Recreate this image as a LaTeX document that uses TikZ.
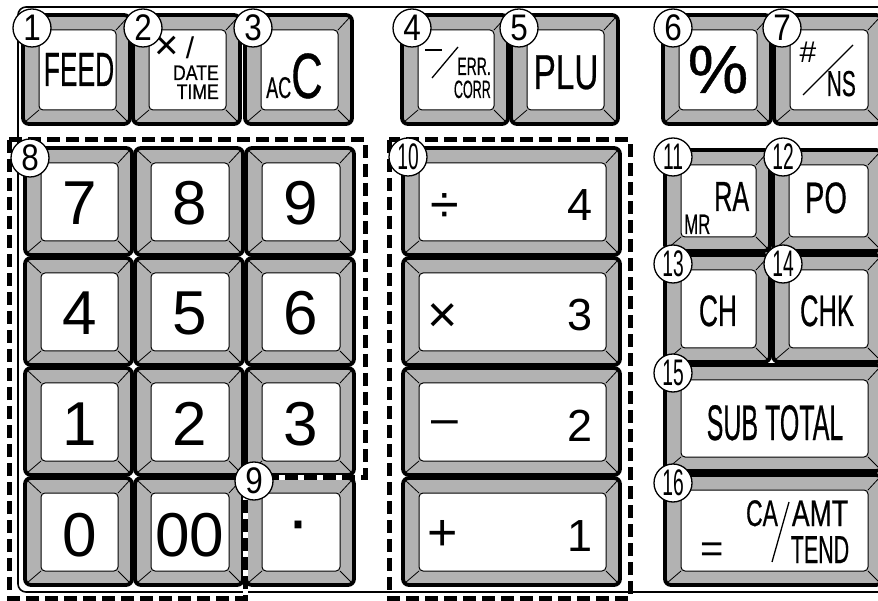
\documentclass[tikz,border=0pt]{standalone}
\usepackage{fontspec}
\setmainfont{Liberation Sans}
\newfontfamily\cnd[FakeBold=0.6]{Liberation Sans}
\usepackage{graphicx}
\newcommand\fsz[1]{\fontsize{#1}{#1}\selectfont}
\newcommand\sqz[2]{\scalebox{#1}[1]{#2}}
\definecolor{keygray}{gray}{0.70}
\tikzset{
 keybody/.style={draw=black, line width=3.8pt, fill=keygray, rounded corners=6pt},
 keydiag/.style={draw=black, line width=0.8pt},
 keyface/.style={draw=black, line width=1pt, fill=white, rounded corners=4pt},
 lbl/.style={inner sep=0pt, anchor=base},
 lblc/.style={inner sep=0pt, anchor=center},
 circnum/.style={circle, draw=black, line width=1.3pt, fill=white, minimum size=38pt, inner sep=0pt, font=\fsz{37}},
 groupbg/.style={draw=white, line width=5pt},
 groupline/.style={draw=black, line width=5pt, dash pattern=on 13pt off 6pt},
 frameline/.style={draw=black, line width=1.6pt, rounded corners=8pt},
 glyphline/.style={draw=black, line width=1.3pt},
}
\newcommand\kkey[4]{%
  \draw[keybody] (#1,#2) rectangle (#3,#4);
  \draw[keydiag] (#1+2,#2+2) -- (#1+16,#2+15)
                 (#3-2,#2+2) -- (#3-14,#2+15)
                 (#1+2,#4-2) -- (#1+16,#4-14)
                 (#3-2,#4-2) -- (#3-14,#4-14);
  \draw[keyface] (#1+16,#2+15) rectangle (#3-14,#4-14);
}
\begin{document}
\begin{tikzpicture}[x=1pt,y=-1pt]
\path[use as bounding box] (0,0) rectangle (878,601);
\clip (0,0) rectangle (878,601);
\fill[white] (0,0) rectangle (878,601);
% frame
\draw[frameline] (18,7) rectangle (930,592);
% top row
\kkey{23}{15}{130}{124}
\kkey{133}{15}{240}{124}
\kkey{245}{15}{352}{124}
\kkey{402}{15}{508}{124}
\kkey{511}{15}{618}{124}
\kkey{663}{15}{771}{124}
\kkey{774}{15}{882}{124}
% numpad
\kkey{25}{148}{132}{255}
\kkey{135}{148}{243}{255}
\kkey{246}{148}{354}{255}
\kkey{25}{258}{132}{365}
\kkey{135}{258}{243}{365}
\kkey{246}{258}{354}{365}
\kkey{25}{368}{132}{475}
\kkey{135}{368}{243}{475}
\kkey{246}{368}{354}{475}
\kkey{25}{478}{132}{585}
\kkey{135}{478}{243}{585}
\kkey{246}{478}{354}{585}
% operators
\kkey{403}{148}{620}{255}
\kkey{403}{258}{620}{365}
\kkey{403}{368}{620}{475}
\kkey{403}{478}{620}{585}
% right column
\kkey{665}{150}{770}{251}
\kkey{773}{150}{882}{251}
\kkey{665}{255}{770}{362}
\kkey{773}{255}{882}{362}
\kkey{665}{365}{882}{471}
\kkey{665}{475}{882}{585}

% top row labels
\node[lbl] (feed) at (79,86) {\cnd\fsz{48}\sqz{0.55}{FEED}};
\node[lblc] (times) at (167,48) {\fsz{42}×};
\node[lblc] (slash2) at (190,48) {\fsz{30}/};
\node[lbl, anchor=base east] (date) at (219,80) {\cnd\fsz{21}\sqz{0.84}{DATE}};
\node[lbl, anchor=base east] (time) at (219,99) {\cnd\fsz{21}\sqz{0.84}{TIME}};
\node[lbl, anchor=base west] (ac) at (266,98) {\cnd\fsz{30}\sqz{0.6}{AC}};
\node[lbl, anchor=base west] (cbig) at (291,98) {\cnd\fsz{64}\sqz{0.68}{C}};
\draw[glyphline] (425,50) -- (442,50);
\draw[glyphline] (432,78) -- (458,47);
\node[lbl, anchor=base east] (err) at (491,75) {\cnd\fsz{25}\sqz{0.56}{ERR.}};
\node[lbl, anchor=base east] (corr) at (491,98) {\cnd\fsz{25}\sqz{0.5}{CORR}};
\node[lbl] (plu) at (566,89) {\cnd\fsz{49}\sqz{0.68}{PLU}};
\node[lbl] (pct) at (718,93) {\cnd\fsz{68}\%};
\node[lbl] (hash) at (808,63) {\fsz{30}\#};
\draw[glyphline] (803,95) -- (853,45);
\node[lbl, anchor=base east] (ns) at (856,96) {\cnd\fsz{36}\sqz{0.58}{NS}};

% numpad labels
\node[lbl] (n7) at (79.5,225) {\fsz{62}7};
\node[lbl] (n8) at (190,225) {\fsz{62}8};
\node[lbl] (n9) at (301,225) {\fsz{62}9};
\node[lbl] (n4) at (79.5,335) {\fsz{62}4};
\node[lbl] (n5) at (190,335) {\fsz{62}5};
\node[lbl] (n6) at (301,335) {\fsz{62}6};
\node[lbl] (n1) at (79.5,445) {\fsz{62}1};
\node[lbl] (n2) at (190,445) {\fsz{62}2};
\node[lbl] (n3) at (301,445) {\fsz{62}3};
\node[lbl] (n0) at (79.5,556) {\fsz{62}0};
\node[lbl] (n00) at (190,556) {\fsz{62}00};
\node[lblc] (ndot) at (298,533) {\fsz{72}·};

% operator labels
\node[lblc] (div) at (445,208) {\fsz{52}÷};
\node[lbl] (o4) at (580,221) {\fsz{45}4};
\node[lblc] (mul) at (443,318) {\fsz{52}×};
\node[lbl] (o3) at (580,331) {\fsz{45}3};
\node[lblc] (sub) at (445,428) {\fsz{48}–};
\node[lbl] (o2) at (580,441) {\fsz{45}2};
\node[lblc] (add) at (443,535) {\fsz{52}+};
\node[lbl] (o1) at (580,551) {\fsz{45}1};

% right column labels
\node[lbl, anchor=base west] (mr) at (684,234) {\cnd\fsz{28}\sqz{0.6}{MR}};
\node[lbl, anchor=base west] (ra) at (714,211) {\cnd\fsz{42}\sqz{0.6}{RA}};
\node[lbl] (po) at (826,213) {\cnd\fsz{44}\sqz{0.66}{PO}};
\node[lbl] (ch) at (718,326) {\cnd\fsz{44}\sqz{0.6}{CH}};
\node[lbl] (chk) at (827,326) {\cnd\fsz{44}\sqz{0.58}{CHK}};
\node[lbl] (subtotal) at (775,440) {\cnd\fsz{50}\sqz{0.5}{SUB TOTAL}};
\node[lbl] (ca) at (762,526) {\cnd\fsz{37}\sqz{0.62}{CA}};
\node[lbl] (amt) at (820,526) {\cnd\fsz{37}\sqz{0.72}{AMT}};
\node[lbl] (tend) at (820,563) {\cnd\fsz{39}\sqz{0.55}{TEND}};
\node[lblc] (eq) at (712,553) {\fsz{40}=};
\draw[glyphline] (789,502) -- (772,562);

% groups
\draw[groupbg] (9,140) -- (365,140) -- (365,477) -- (245,477) -- (245,598) -- (9,598) -- cycle;
\draw[groupline] (9,140) -- (365,140) -- (365,477) -- (245,477) -- (245,598) -- (9,598) -- cycle;
\draw[groupline] (389,140) rectangle (630,598);

% circled numbers
\node[circnum] (c1) at (32,28) {\sqz{0.85}{1}};
\node[circnum] (c2) at (143,28) {\sqz{0.85}{2}};
\node[circnum] (c3) at (253,28) {\sqz{0.85}{3}};
\node[circnum] (c4) at (412,28) {\sqz{0.85}{4}};
\node[circnum] (c5) at (519,28) {\sqz{0.85}{5}};
\node[circnum] (c6) at (673,28) {\sqz{0.85}{6}};
\node[circnum] (c7) at (782,28) {\sqz{0.85}{7}};
\node[circnum] (c8) at (30,158) {\sqz{0.85}{8}};
\node[circnum] (c9) at (254,481) {\sqz{0.85}{9}};
\node[circnum] (c10) at (408,157) {\sqz{0.52}{10}};
\node[circnum] (c11) at (673,157) {\sqz{0.52}{11}};
\node[circnum] (c12) at (783,157) {\sqz{0.52}{12}};
\node[circnum] (c13) at (673,264) {\sqz{0.52}{13}};
\node[circnum] (c14) at (783,264) {\sqz{0.52}{14}};
\node[circnum] (c15) at (673,373) {\sqz{0.52}{15}};
\node[circnum] (c16) at (673,483) {\sqz{0.52}{16}};
\end{tikzpicture}
\end{document}
